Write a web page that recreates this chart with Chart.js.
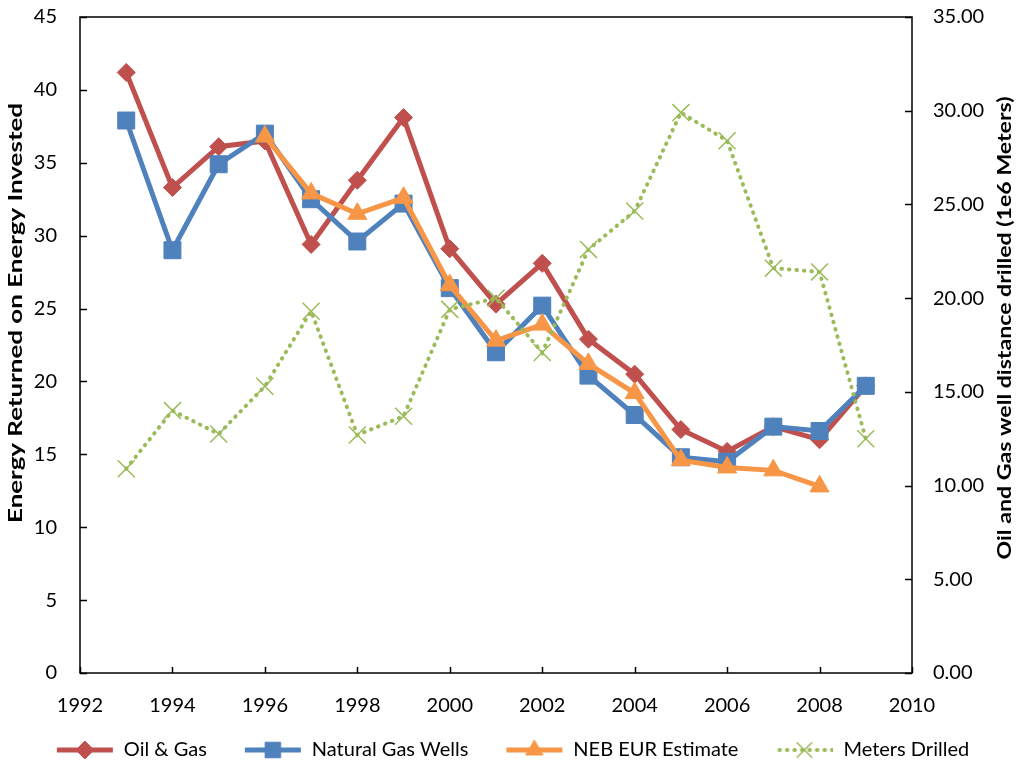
<!DOCTYPE html>
<html>
<head>
<meta charset="utf-8">
<title>EROI chart</title>
<script src="https://cdn.jsdelivr.net/npm/chart.js@4/dist/chart.umd.min.js"></script>
<style>
  html, body { margin: 0; padding: 0; background: #fff; }
  #wrap { width: 1024px; height: 765px; }
</style>
</head>
<body>
<div id="wrap"><canvas id="eroiChart" width="1024" height="765"></canvas></div>
<script>
// years on the x axis
const years = [1993, 1994, 1995, 1996, 1997, 1998, 1999, 2000, 2001, 2002, 2003, 2004, 2005, 2006, 2007, 2008, 2009];
const nebYears = [1996, 1997, 1998, 1999, 2000, 2001, 2002, 2003, 2004, 2005, 2006, 2007, 2008];

// EROI series (left axis)
const oilGas = [41.2, 33.3, 36.1, 36.5, 29.4, 33.8, 38.1, 29.1, 25.3, 28.1, 22.9, 20.5, 16.7, 15.2, 16.9, 16.0, 19.7];
const gasWells = [37.9, 29.0, 34.9, 37.0, 32.5, 29.6, 32.2, 26.4, 22.0, 25.2, 20.4, 17.7, 14.8, 14.5, 16.9, 16.6, 19.7];
const nebEur = [36.8, 32.9, 31.5, 32.6, 26.6, 22.8, 23.9, 21.2, 19.2, 14.6, 14.1, 13.9, 12.8];

// distance drilled, 1e6 meters (right axis)
const metersDrilled = [10.9, 14.0, 12.75, 15.3, 19.3, 12.7, 13.7, 19.4, 20.0, 17.1, 22.6, 24.65, 29.9, 28.4, 21.6, 21.4, 12.5];

const leftTitle = "Energy Returned on Energy Invested";
const rightTitle = "Oil and Gas well distance drilled (1e6 Meters)";

const RED = "#C0504D", BLUE = "#4F81BD", ORANGE = "#F79646", GREEN = "#9BBB59";
const FONT = "Lato, 'Open Sans', sans-serif";

function pts(xs, ys) {
  return xs.map((x, i) => ({ x: x, y: ys[i] }));
}

// small line + marker pictures for the legend (blank strip on the left = gap between items)
const GAP = 17;
function legendIcon(color, style, radius, dotted) {
  const c = document.createElement("canvas");
  c.width = 58 + GAP; c.height = 26;
  const g = c.getContext("2d");
  g.strokeStyle = color;
  g.fillStyle = color;
  g.lineWidth = dotted ? 4 : 5;
  if (dotted) { g.setLineDash([0.5, 7]); g.lineCap = "round"; }
  g.beginPath(); g.moveTo(GAP + (dotted ? 4 : 1), 13); g.lineTo(GAP + 57, 13); g.stroke();
  g.setLineDash([]);
  g.lineCap = "butt";
  g.lineWidth = dotted ? 1.5 : 1;
  Chart.helpers.drawPoint(g, { pointStyle: style, radius: radius, borderWidth: g.lineWidth, rotation: 0 }, GAP + 29, 13);
  return c;
}

const icons = [
  legendIcon(RED, "rectRot", 9),
  legendIcon(BLUE, "rect", 11),
  legendIcon(ORANGE, "triangle", 10),
  legendIcon(GREEN, "crossRot", 11, true)
];

// nudge the legend row left so the first blank strip does not push it off centre
const legendShift = {
  id: "legendShift",
  afterLayout(chart) {
    chart.legend.left -= 8;
    chart.legend.right -= 8;
  }
};

// box round the plot, inward tick marks, and the two axis titles
const frame = {
  id: "frame",
  afterDraw(chart) {
    const { ctx, chartArea: a, scales } = chart;
    ctx.save();
    ctx.strokeStyle = "#000";
    ctx.lineWidth = 1.5;
    ctx.strokeRect(a.left, a.top, a.right - a.left, a.bottom - a.top);
    ctx.beginPath();
    scales.x.ticks.forEach(t => {
      const px = Math.round(scales.x.getPixelForValue(t.value)) + 0.5;
      ctx.moveTo(px, a.bottom); ctx.lineTo(px, a.bottom - 6);
    });
    scales.y.ticks.forEach(t => {
      const py = Math.round(scales.y.getPixelForValue(t.value)) + 0.5;
      ctx.moveTo(a.left, py); ctx.lineTo(a.left + 7, py);
    });
    scales.y2.ticks.forEach(t => {
      const py = Math.round(scales.y2.getPixelForValue(t.value)) + 0.5;
      ctx.moveTo(a.right, py); ctx.lineTo(a.right - 7, py);
    });
    ctx.stroke();

    ctx.fillStyle = "#000";
    ctx.font = "bold 19px " + FONT;
    ctx.textAlign = "center";
    ctx.textBaseline = "middle";
    [[leftTitle, 16, 313, 420], [rightTitle, 1005, 328, 463]].forEach(([txt, cx, cy, len]) => {
      const w = ctx.measureText(txt).width;
      ctx.save();
      ctx.translate(cx, cy);
      ctx.rotate(-Math.PI / 2);
      ctx.scale(len / w, 1);
      ctx.fillText(txt, 0, 0);
      ctx.restore();
    });
    ctx.restore();
  }
};

const noPad = s => { s.paddingTop = 0; s.paddingBottom = 0; s.paddingLeft = 0; s.paddingRight = 0; };

const ctx = document.getElementById("eroiChart").getContext("2d");
new Chart(ctx, {
  type: "line",
  data: {
    datasets: [
      {
        label: "Oil & Gas",
        data: pts(years, oilGas),
        yAxisID: "y",
        borderColor: RED, backgroundColor: RED,
        borderWidth: 5,
        pointStyle: "rectRot", pointRadius: 9,
        pointBackgroundColor: RED, pointBorderColor: RED, pointBorderWidth: 1,
        order: 4
      },
      {
        label: "Natural Gas Wells",
        data: pts(years, gasWells),
        yAxisID: "y",
        borderColor: BLUE, backgroundColor: BLUE,
        borderWidth: 5,
        pointStyle: "rect", pointRadius: 12,
        pointBackgroundColor: BLUE, pointBorderColor: BLUE, pointBorderWidth: 1,
        order: 3
      },
      {
        label: "NEB EUR Estimate",
        data: pts(nebYears, nebEur),
        yAxisID: "y",
        borderColor: ORANGE, backgroundColor: ORANGE,
        borderWidth: 5,
        pointStyle: "triangle", pointRadius: 11,
        pointBackgroundColor: ORANGE, pointBorderColor: ORANGE, pointBorderWidth: 1,
        order: 2
      },
      {
        label: "Meters Drilled",
        data: pts(years, metersDrilled),
        yAxisID: "y2",
        borderColor: GREEN, backgroundColor: GREEN,
        borderWidth: 4,
        borderDash: [0.5, 7],
        borderCapStyle: "round",
        pointStyle: "crossRot", pointRadius: 12,
        pointBorderColor: GREEN, pointBorderWidth: 1.5,
        order: 1
      }
    ]
  },
  options: {
    responsive: false,
    animation: false,
    layout: { padding: { top: 17, left: 0, right: 0, bottom: -5 } },
    elements: { line: { tension: 0 } },
    plugins: {
      tooltip: { enabled: false },
      legend: {
        position: "bottom",
        labels: {
          usePointStyle: true,
          pointStyleWidth: 58 + GAP,
          boxHeight: 20,
          padding: 20,
          color: "#000",
          font: { family: FONT, size: 20 },
          sort: (a, b) => a.datasetIndex - b.datasetIndex,
          generateLabels: function(chart) {
            const items = Chart.defaults.plugins.legend.labels.generateLabels(chart);
            items.forEach(it => { it.pointStyle = icons[it.datasetIndex]; });
            return items;
          }
        }
      }
    },
    scales: {
      x: {
        type: "linear",
        min: 1992, max: 2010,
        grid: { display: false, drawTicks: false },
        border: { display: false },
        ticks: {
          stepSize: 2,
          padding: 21,
          color: "#000",
          font: { family: FONT, size: 20 },
          maxRotation: 0,
          callback: v => String(v)
        },
        afterFit: s => { s.height = 47; noPad(s); }
      },
      y: {
        position: "left",
        min: 0, max: 45,
        grid: { display: false, drawTicks: false },
        border: { display: false },
        ticks: {
          stepSize: 5,
          padding: 23,
          color: "#000",
          font: { family: FONT, size: 20 }
        },
        afterFit: s => { s.width = 80; noPad(s); }
      },
      y2: {
        position: "right",
        min: 0, max: 35,
        grid: { display: false, drawTicks: false },
        border: { display: false },
        ticks: {
          stepSize: 5,
          padding: 21,
          color: "#000",
          font: { family: FONT, size: 20 },
          callback: v => v.toFixed(2)
        },
        afterFit: s => { s.width = 112; noPad(s); }
      }
    }
  },
  plugins: [frame, legendShift]
});
</script>
</body>
</html>
